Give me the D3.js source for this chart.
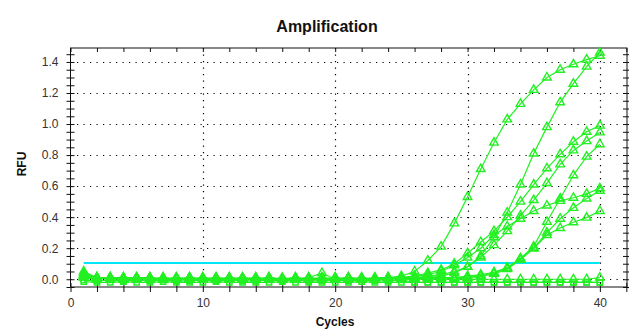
<!DOCTYPE html>
<html><head><meta charset="utf-8">
<script src="https://cdn.jsdelivr.net/npm/d3@7/dist/d3.min.js"></script>
<style>body{margin:0;background:#fff}svg{display:block}</style>
</head><body><svg id="c" width="629" height="329"></svg>
<script>
// ---- data ----
const cycles = [1,2,3,4,5,6,7,8,9,10,11,12,13,14,15,16,17,18,19,20,21,22,23,24,25,26,27,28,29,30,31,32,33,34,35,36,37,38,39,40];
const wellA = [0.04,0.01,0.01,0.00,0.01,0.01,0.00,0.00,0.01,0.00,0.00,0.01,0.00,0.00,0.01,0.00,0.00,0.00,0.01,0.00,0.00,0.00,0.01,0.01,0.02,0.05,0.12,0.21,0.36,0.53,0.71,0.88,1.03,1.13,1.22,1.30,1.35,1.385,1.415,1.44];
const wellB = [0.02,0.00,0.01,0.00,0.00,0.01,0.00,0.01,0.00,0.00,0.01,0.00,0.00,0.00,0.01,0.00,0.01,0.00,0.00,0.00,0.01,0.00,0.00,0.00,0.01,0.01,0.01,0.02,0.04,0.08,0.15,0.27,0.43,0.61,0.81,0.98,1.14,1.26,1.37,1.46];
const wellC = [0.03,0.01,0.00,0.01,0.01,0.00,0.00,0.01,0.00,0.01,0.00,0.00,0.01,0.00,0.00,0.01,0.00,0.00,0.00,0.01,0.00,0.01,0.00,0.01,0.01,0.02,0.04,0.06,0.10,0.167,0.24,0.31,0.40,0.50,0.61,0.715,0.805,0.886,0.95,0.99];
const wellD = [0.01,0.00,0.01,0.01,0.00,0.00,0.01,0.00,0.00,0.01,0.00,0.01,0.00,0.00,0.01,0.00,0.00,0.01,0.00,0.00,0.01,0.00,0.00,0.01,0.00,0.01,0.02,0.03,0.05,0.08,0.14,0.22,0.31,0.41,0.51,0.62,0.74,0.83,0.89,0.946];
const wellE = [0.02,0.01,0.00,0.00,0.01,0.00,0.01,0.00,0.00,0.00,0.01,0.00,0.01,0.00,0.00,0.00,0.01,0.00,0.00,0.01,0.00,0.00,0.00,0.01,0.00,0.00,0.01,0.01,0.01,0.02,0.03,0.045,0.075,0.135,0.21,0.37,0.52,0.67,0.79,0.87];
const wellF = [0.01,0.01,0.00,0.01,0.00,0.01,0.00,0.00,0.01,0.00,0.00,0.00,0.01,0.00,0.01,0.00,0.00,0.00,0.01,0.00,0.00,0.01,0.00,0.00,0.01,0.02,0.03,0.05,0.09,0.14,0.20,0.285,0.34,0.39,0.44,0.475,0.505,0.525,0.55,0.586];
const wellG = [0.03,0.00,0.01,0.00,0.01,0.00,0.00,0.01,0.00,0.01,0.00,0.00,0.00,0.01,0.00,0.00,0.01,0.00,0.00,0.00,0.01,0.00,0.01,0.00,0.00,0.01,0.00,0.01,0.00,0.01,0.02,0.04,0.07,0.13,0.20,0.30,0.39,0.46,0.52,0.57];
const wellH = [0.02,0.01,0.01,0.00,0.00,0.01,0.00,0.00,0.01,0.00,0.01,0.00,0.00,0.01,0.00,0.00,0.00,0.01,0.00,0.01,0.00,0.00,0.00,0.00,0.01,0.00,0.01,0.00,0.01,0.01,0.02,0.035,0.065,0.125,0.20,0.285,0.33,0.367,0.397,0.44];
const wellI = [0.05,0.01,0.01,0.01,0.01,0.00,0.01,0.00,0.01,0.00,0.00,0.01,0.00,0.01,0.00,0.00,0.00,0.01,0.04,0.00,0.01,0.00,0.00,0.01,0.00,0.00,0.00,0.00,0.00,0.00,0.00,0.00,0.00,0.00,0.00,0.00,0.00,0.00,0.00,0.01];
const ntc1 = [-0.015,-0.02,-0.02,-0.015,-0.02,-0.02,-0.015,-0.02,-0.02,-0.02,-0.015,-0.02,-0.02,-0.02,-0.02,-0.015,-0.02,-0.02,-0.02,-0.02,-0.02,-0.015,-0.02,-0.02,-0.02,-0.02,-0.02,-0.02,-0.02,-0.02,-0.02,-0.02,-0.02,-0.02,-0.02,-0.02,-0.02,-0.02,-0.02,-0.02];
const ntc2 = [-0.005,-0.01,-0.005,-0.01,-0.005,-0.01,-0.005,-0.01,-0.01,-0.005,-0.01,-0.005,-0.01,-0.01,-0.005,-0.01,-0.005,-0.01,-0.01,-0.005,-0.01,-0.005,-0.01,-0.01,-0.005,-0.02,-0.02,-0.02,-0.02,-0.02,-0.02,-0.02,-0.02,-0.02,-0.02,-0.02,-0.02,-0.02,-0.02,-0.02];
const triangleSeries = [wellA, wellB, wellC, wellD, wellE, wellF, wellG, wellH, wellI];
const squareSeries = [ntc1, ntc2];
const threshold = 0.105;
const thresholdRange = [1, 40];
const yMajorTicks = [0.0,0.2,0.4,0.6,0.8,1.0,1.2,1.4];
const xMajorTicks = [0,10,20,30,40];

// ---- layout ----
const svg = d3.select("#c");
const L = 70.5, R = 627, T = 48, B = 287;
const x = d3.scaleLinear().domain([0, 42.05]).range([L, R]);
const y = d3.scaleLinear().domain([-0.05, 1.49]).range([B, T]);
const green = "#22f022";
const font = "'Liberation Sans', Arial, sans-serif";

// grid (dotted)
const grid = svg.append("g").attr("stroke", "#000").attr("stroke-width", 1.2)
  .attr("stroke-dasharray", "1.2,5.3");
grid.selectAll(".hg").data(yMajorTicks).join("line")
  .attr("x1", L).attr("x2", R)
  .attr("y1", d => Math.round(y(d)) + 0.5).attr("y2", d => Math.round(y(d)) + 0.5);
grid.selectAll(".vg").data(xMajorTicks.filter(d => d > 0)).join("line")
  .attr("y1", T).attr("y2", B)
  .attr("x1", d => Math.round(x(d)) + 0.5).attr("x2", d => Math.round(x(d)) + 0.5);

// frame
svg.append("rect").attr("x", L).attr("y", T).attr("width", R - L).attr("height", B - T)
  .attr("fill", "none").attr("stroke", "#111").attr("stroke-width", 1);

// axes with crossing ticks
const yMinor = d3.range(-0.05, 1.4501, 0.05).map(v => +v.toFixed(2));
const xMinor = d3.range(0, 42.01, 2);
function styleAxis(g) { g.select(".domain").remove(); g.selectAll("line").attr("stroke", "#111"); }
svg.append("g").attr("transform", `translate(${L},0)`)
  .call(d3.axisLeft(y).tickValues(yMinor).tickSize(4).tickFormat("")).call(styleAxis);
svg.append("g").attr("transform", `translate(${L},0)`)
  .call(d3.axisRight(y).tickValues(yMinor).tickSize(4).tickFormat("")).call(styleAxis);
svg.append("g").attr("transform", `translate(${R},0)`)
  .call(d3.axisLeft(y).tickValues(yMinor).tickSize(4).tickFormat("")).call(styleAxis);
svg.append("g").attr("transform", `translate(${R},0)`)
  .call(d3.axisRight(y).tickValues(yMinor).tickSize(3).tickFormat("")).call(styleAxis);
svg.append("g").attr("transform", `translate(0,${B})`)
  .call(d3.axisBottom(x).tickValues(xMinor).tickSize(5).tickFormat("")).call(styleAxis);
svg.append("g").attr("transform", `translate(0,${B})`)
  .call(d3.axisTop(x).tickValues(xMinor).tickSize(4).tickFormat("")).call(styleAxis);
svg.append("g").attr("transform", `translate(0,${T})`)
  .call(d3.axisBottom(x).tickValues(xMinor).tickSize(4).tickFormat("")).call(styleAxis);

// tick labels
const yl = svg.append("g").attr("transform", `translate(${L},0)`)
  .call(d3.axisLeft(y).tickValues(yMajorTicks).tickSize(0).tickPadding(12).tickFormat(d3.format(".1f")));
yl.select(".domain").remove();
yl.selectAll("text").attr("font-family", font).attr("font-size", 12).attr("fill", "#333");
const xl = svg.append("g").attr("transform", `translate(0,${B})`)
  .call(d3.axisBottom(x).tickValues(xMajorTicks).tickSize(0).tickPadding(11).tickFormat(d3.format("d")));
xl.select(".domain").remove();
xl.selectAll("text").attr("font-family", font).attr("font-size", 12).attr("fill", "#333");

// titles
svg.append("text").attr("x", 327).attr("y", 32).attr("text-anchor", "middle")
  .attr("font-family", font).attr("font-weight", "bold").attr("font-size", 16).attr("fill", "#111").text("Amplification");
svg.append("text").attr("x", 335).attr("y", 326).attr("text-anchor", "middle")
  .attr("font-family", font).attr("font-weight", "bold").attr("font-size", 12).attr("fill", "#111").text("Cycles");
svg.append("text").attr("transform", "translate(26,164) rotate(-90)").attr("text-anchor", "middle")
  .attr("font-family", font).attr("font-weight", "bold").attr("font-size", 12).attr("fill", "#111").text("RFU");

// threshold
svg.append("line").attr("x1", x(thresholdRange[0])).attr("x2", x(thresholdRange[1]))
  .attr("y1", y(threshold)).attr("y2", y(threshold))
  .attr("stroke", "#00e8f8").attr("stroke-width", 2);

// series
const line = d3.line().x((d, i) => x(cycles[i])).y(d => y(d));
const plot = svg.append("g");
const allSeries = squareSeries.concat(triangleSeries);
plot.selectAll(".ln").data(allSeries).join("path")
  .attr("d", line).attr("fill", "none").attr("stroke", green).attr("stroke-width", 1.2);
const tri = d3.symbol(d3.symbolTriangle, 32);
const sq = d3.symbol(d3.symbolSquare, 28);
squareSeries.forEach(s => {
  plot.append("g").selectAll("path").data(s).join("path")
    .attr("d", sq).attr("transform", (d, i) => `translate(${x(cycles[i])},${y(d)})`)
    .attr("fill", "none").attr("stroke", green).attr("stroke-width", 1.4);
});
triangleSeries.forEach(s => {
  plot.append("g").selectAll("path").data(s).join("path")
    .attr("d", tri).attr("transform", (d, i) => `translate(${x(cycles[i])},${y(d)})`)
    .attr("fill", "none").attr("stroke", green).attr("stroke-width", 1.4);
});
</script>
</body></html>
